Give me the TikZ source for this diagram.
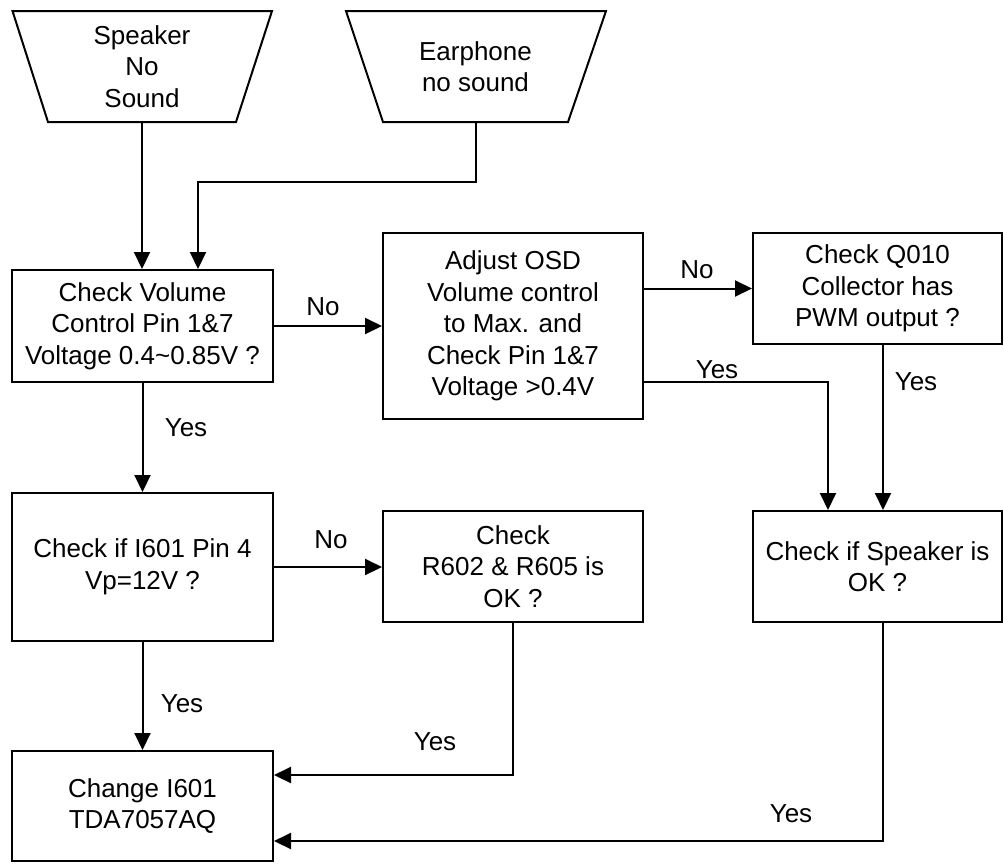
\documentclass[tikz,border=0pt]{standalone}
\usepackage{fontspec}
\setmainfont{Liberation Sans}
\usetikzlibrary{arrows.meta}
\begin{document}
\begin{tikzpicture}[x=1pt,y=-1pt,
  every node/.style={font=\fontsize{26}{31.5}\selectfont, align=center},
  box/.style={draw, line width=2pt, inner sep=0pt},
  trapline/.style={draw, line width=2pt, line join=miter},
  traptext/.style={inner sep=0pt, minimum width=188pt, minimum height=111pt},
  conn/.style={line width=2pt},
  arr/.style={conn, -{Triangle[length=17pt,width=16pt]}},
  lbl/.style={inner sep=0pt}]
\useasboundingbox (0,0) rectangle (1004,863);

% start shapes
\draw[trapline] (12.5,11) -- (272,11) -- (236,122) -- (48,122) -- cycle;
\draw[trapline] (346,11) -- (606,11) -- (568,122) -- (383,122) -- cycle;
\node[traptext] (sp) at (142,66.5) {Speaker\\No\\Sound};
\node[traptext] (ear) at (475.5,66.5) {Earphone\\no sound};

% boxes
\node[box, minimum width=261pt, minimum height=112pt] (b1) at (142.5,326)
  {Check Volume\\Control Pin 1\&7\\Voltage 0.4\textasciitilde 0.85V ?};
\node[box, minimum width=260pt, minimum height=186pt] (b2) at (513,326)
  {Adjust OSD\\Volume control\\to Max. and\\Check Pin 1\&7\\Voltage >0.4V};
\node[box, minimum width=249pt, minimum height=111pt] (b3) at (877.5,288.5)
  {Check Q010\\Collector has\\PWM output ?};
\node[box, minimum width=261pt, minimum height=148pt] (b4) at (142.5,567)
  {Check if I601 Pin 4\\Vp=12V ?};
\node[box, minimum width=260pt, minimum height=111pt] (b5) at (513,566.5)
  {Check\\R602 \& R605 is\\OK ?};
\node[box, minimum width=249pt, minimum height=111pt] (b6) at (877.5,566.5)
  {Check if Speaker is\\OK ?};
\node[box, minimum width=261pt, minimum height=110pt] (b7) at (142.5,806)
  {Change I601\\TDA7057AQ};

% helper coordinates
\coordinate (e1) at (198,182);
\coordinate (y1) at (828,382);
\coordinate (x3) at (883,0);
\coordinate (j1) at (513,775);
\coordinate (j2) at (883,841);

% connectors
\draw[arr] (sp.south) -- (sp.south |- b1.north);
\draw[arr] (ear.south) |- (e1) -- (e1 |- b1.north);
\draw[arr] (b1.east) -- (b2.west);
\draw[arr] (b2.east |- b3.west) -- (b3.west);
\draw[arr] (b2.east |- y1) -- (y1) -- (y1 |- b6.north);
\draw[arr] (b3.south -| x3) -- (b6.north -| x3);
\draw[arr] (b1.south) -- (b4.north);
\draw[arr] (b4.east) -- (b4.east -| b5.west);
\draw[arr] (b4.south) -- (b7.north);
\draw[arr] (b5.south) -- (j1) -- (j1 -| b7.east);
\draw[arr] (b6.south -| j2) -- (j2) -- (j2 -| b7.east);

% labels
\node[lbl] (l1) at (323,307) {No};
\node[lbl] (l2) at (697,270) {No};
\node[lbl] (l3) at (717,370) {Yes};
\node[lbl] (l4) at (916,382) {Yes};
\node[lbl] (l5) at (186,428) {Yes};
\node[lbl] (l6) at (331,540) {No};
\node[lbl] (l7) at (182,704) {Yes};
\node[lbl] (l8) at (435,742) {Yes};
\node[lbl] (l9) at (791,814) {Yes};
\end{tikzpicture}
\end{document}
